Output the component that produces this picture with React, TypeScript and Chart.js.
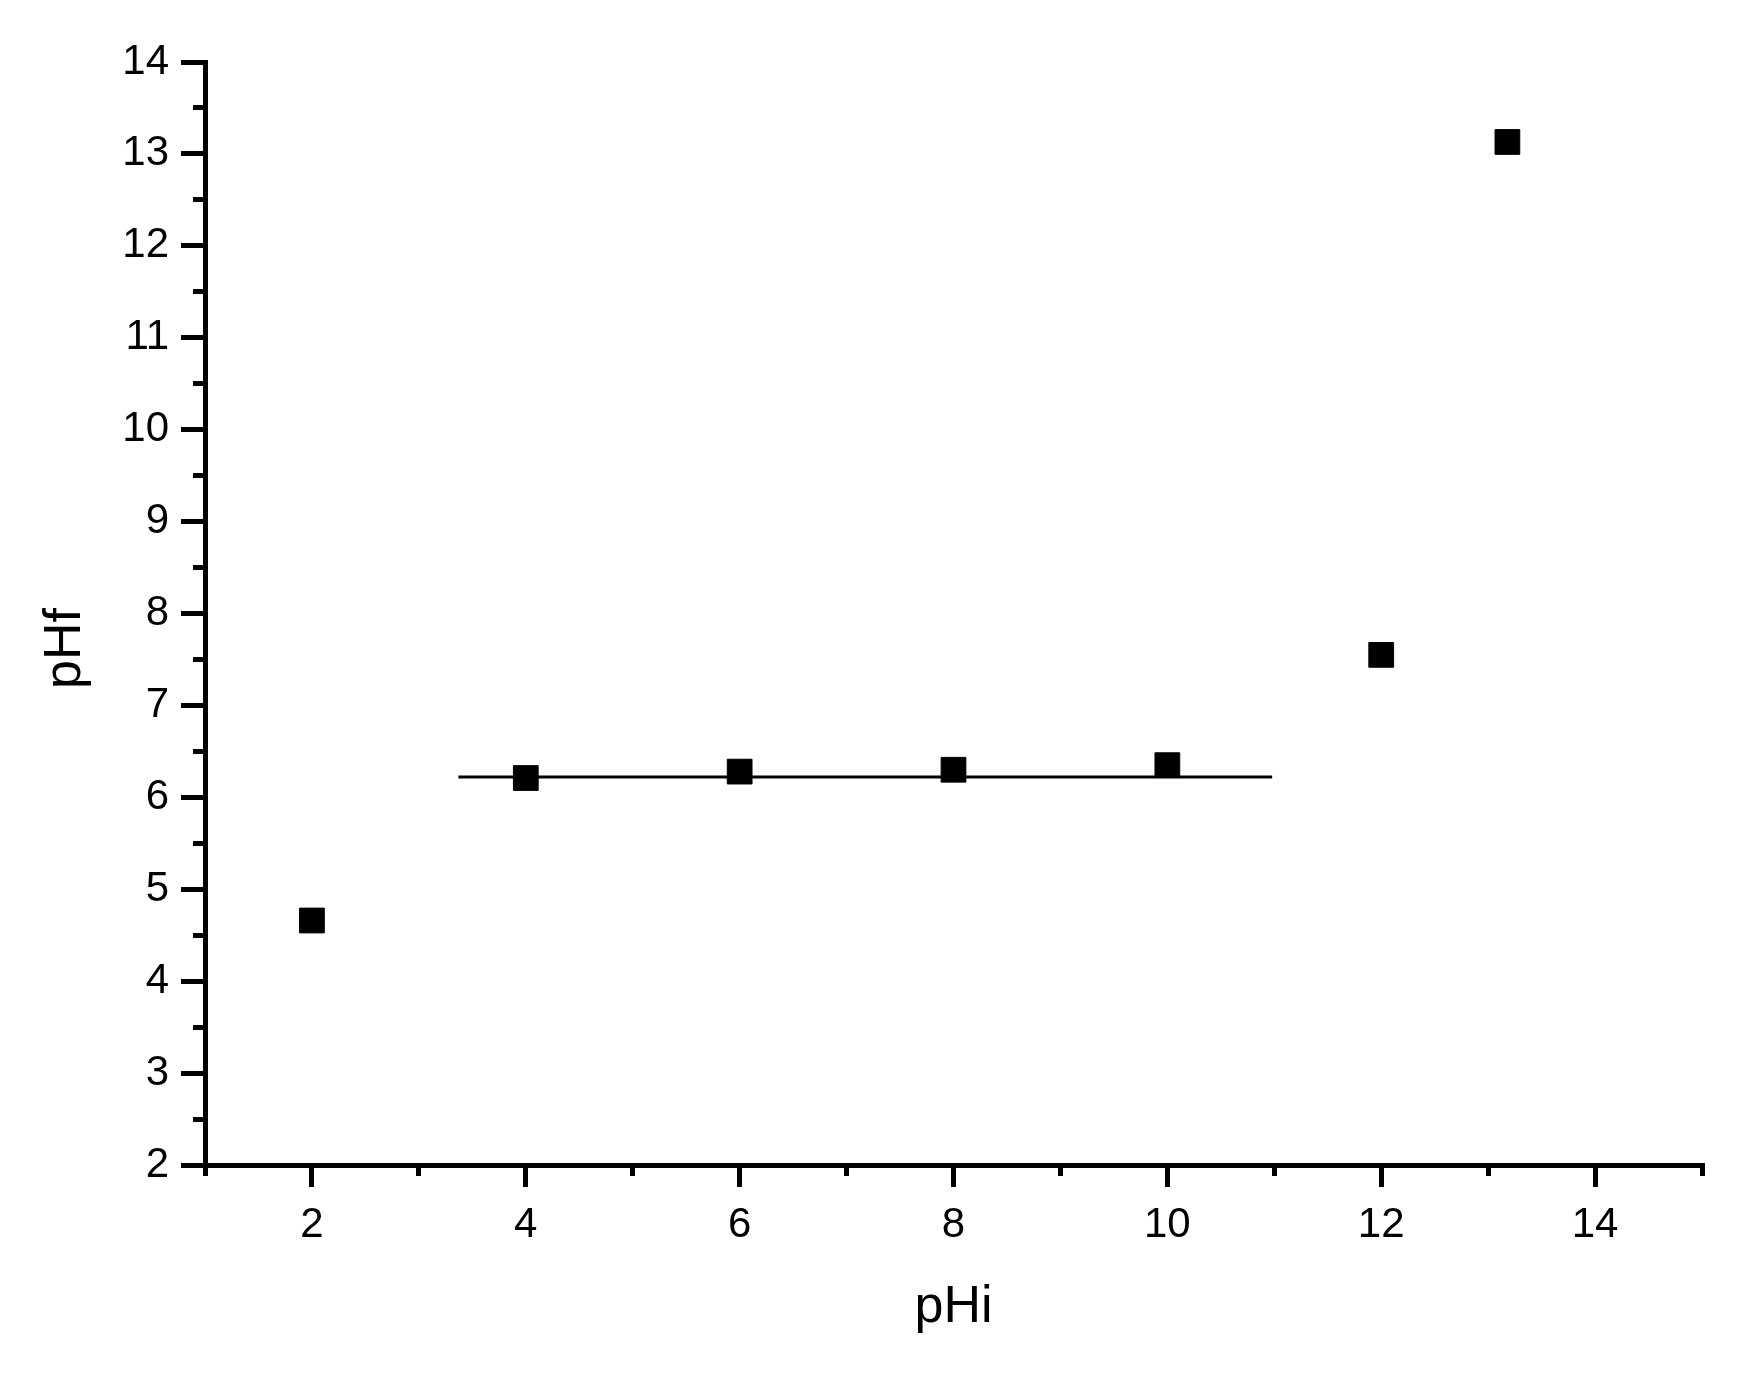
import React, { useEffect, useRef } from "react";
import { Chart, registerables } from "chart.js";

Chart.register(...registerables);

// Data
const pHi = [2, 4, 6, 8, 10, 12, 13.18];
const pHf = [4.66, 6.21, 6.28, 6.3, 6.35, 7.55, 13.13];
const fitX = [3.37, 10.98];
const fitY = [6.22, 6.22];
const xMajorTicks = [2, 4, 6, 8, 10, 12, 14];
const yMajorTicks = [2, 3, 4, 5, 6, 7, 8, 9, 10, 11, 12, 13, 14];
const xTitle = "pHi";
const yTitle = "pHf";

const FONT = '"Liberation Sans", Arial, Helvetica, sans-serif';

const axisTitles = {
  id: "axisTitles",
  afterDraw(chart: any) {
    const { ctx, chartArea } = chart;
    ctx.save();
    ctx.fillStyle = "#000";
    ctx.font = `52px ${FONT}`;
    ctx.textAlign = "center";
    ctx.textBaseline = "alphabetic";
    ctx.fillText(xTitle, (chartArea.left + chartArea.right) / 2, chartArea.bottom + 157);
    ctx.translate(80, (chartArea.top + chartArea.bottom) / 2 + 35);
    ctx.rotate(-Math.PI / 2);
    ctx.fillText(yTitle, 0, 0);
    ctx.restore();
  },
};

export default function App() {
  const ref = useRef<HTMLCanvasElement | null>(null);

  useEffect(() => {
    if (!ref.current) return;
    const chart = new Chart(ref.current, {
      type: "scatter",
      data: {
        datasets: [
          {
            label: "pHf",
            data: pHi.map((x, i) => ({ x, y: pHf[i] })),
            pointStyle: "rect",
            pointRadius: 17.5,
            pointHoverRadius: 17.5,
            backgroundColor: "#000",
            borderColor: "#000",
            borderWidth: 1,
            showLine: false,
          },
          {
            type: "line",
            label: "fit",
            data: fitX.map((x, i) => ({ x, y: fitY[i] })),
            borderColor: "#000",
            borderWidth: 3,
            pointRadius: 0,
            showLine: true,
            fill: false,
          } as any,
        ],
      },
      options: {
        responsive: false,
        animation: false,
        devicePixelRatio: 1,
        layout: { padding: { left: 0, right: 48, top: 62, bottom: 0 } },
        plugins: { legend: { display: false }, tooltip: { enabled: false } },
        scales: {
          x: {
            type: "linear",
            position: "bottom",
            min: 1,
            max: 15,
            afterBuildTicks: (s: any) => {
              s.ticks = xMajorTicks.map((v) => ({ value: v }));
            },
            afterFit: (s: any) => {
              s.height = 210;
            },
            grid: {
              drawOnChartArea: false,
              tickLength: 22,
              tickWidth: 5,
              tickColor: "#000",
              color: "#000",
              lineWidth: 5,
            },
            border: { display: true, color: "#000", width: 5 },
            ticks: {
              color: "#000",
              font: { family: FONT, size: 42 },
              padding: 13,
              maxRotation: 0,
              autoSkip: false,
            },
          },
          y: {
            type: "linear",
            position: "left",
            min: 2,
            max: 14,
            afterBuildTicks: (s: any) => {
              s.ticks = yMajorTicks.map((v) => ({ value: v }));
            },
            afterFit: (s: any) => {
              s.width = 205;
            },
            grid: {
              drawOnChartArea: false,
              tickLength: 24,
              tickWidth: 5,
              tickColor: "#000",
              color: "#000",
              lineWidth: 5,
            },
            border: { display: true, color: "#000", width: 5 },
            ticks: {
              color: "#000",
              font: { family: FONT, size: 42 },
              padding: 12,
              autoSkip: false,
            },
          },
          x2: {
            type: "linear",
            axis: "x",
            position: { y: 2 },
            min: 1,
            max: 15,
            ticks: { display: false, stepSize: 1 },
            grid: {
              drawOnChartArea: false,
              tickLength: 11,
              tickWidth: 5,
              tickColor: "#000",
              color: "#000",
            },
            border: { display: false },
          } as any,
          y2: {
            type: "linear",
            axis: "y",
            position: { x: 1 },
            min: 2,
            max: 14,
            ticks: { display: false, stepSize: 0.5 },
            grid: {
              drawOnChartArea: false,
              tickLength: 12,
              tickWidth: 5,
              tickColor: "#000",
              color: "#000",
            },
            border: { display: false },
          } as any,
        },
      },
      plugins: [axisTitles],
    });
    return () => chart.destroy();
  }, []);

  return (
    <div style={{ position: "absolute", left: 0, top: 0, width: 1750, height: 1375, background: "#fff" }}>
      <canvas ref={ref} width={1750} height={1375} style={{ display: "block" }} />
    </div>
  );
}
